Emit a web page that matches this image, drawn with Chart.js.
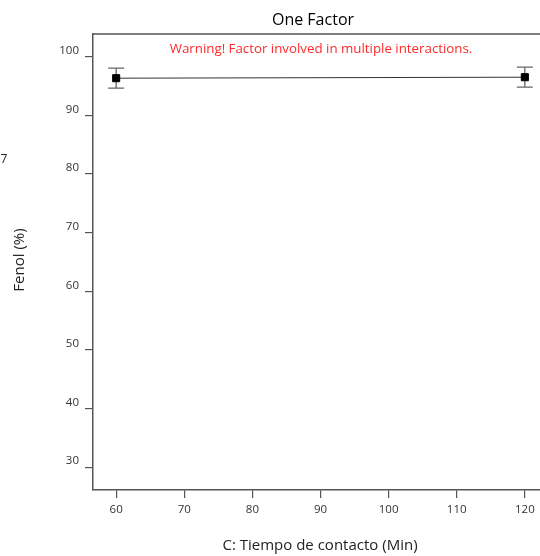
<!DOCTYPE html>
<html>
<head>
<meta charset="utf-8">
<script src="https://cdn.jsdelivr.net/npm/chart.js@4/dist/chart.umd.min.js"></script>
<style>
  html, body { margin: 0; padding: 0; background: #fff; overflow: hidden; }
  #wrap { width: 540px; height: 556px; overflow: hidden; }
  #grafico { display: block; }
</style>
</head>
<body>
<div id="wrap"><canvas id="grafico" width="560" height="556"></canvas></div>
<script>
// tiempo de contacto (min) y respuesta fenol (%)
const tiempos = [60, 120];
const fenol = [96.36, 96.53];
const fenolBajo = [94.66, 94.83];
const fenolAlto = [98.07, 98.24];
const ticksX = [60, 70, 80, 90, 100, 110, 120];
const ticksY = [30, 40, 50, 60, 70, 80, 90, 100];

const fuente = "'Open Sans', 'Noto Sans', sans-serif";
const gris = '#555';

// barras de error (debajo de los marcadores) y borde superior
const barrasError = {
    id: 'barrasError',
    beforeDatasetsDraw(chart) {
        const ctx = chart.ctx;
        const a = chart.chartArea;
        const sx = chart.scales.x, sy = chart.scales.y;
        ctx.save();
        ctx.strokeStyle = gris;
        ctx.lineWidth = 1.5;
        ctx.beginPath();
        ctx.moveTo(a.left, a.top);
        ctx.lineTo(a.right, a.top);
        ctx.stroke();

        ctx.strokeStyle = '#666';
        ctx.lineWidth = 1.3;
        for (let i = 0; i < tiempos.length; i++) {
            const px = sx.getPixelForValue(tiempos[i]);
            const y1 = sy.getPixelForValue(fenolAlto[i]);
            const y2 = sy.getPixelForValue(fenolBajo[i]);
            ctx.beginPath();
            ctx.moveTo(px, y1); ctx.lineTo(px, y2);
            ctx.moveTo(px - 8, y1); ctx.lineTo(px + 8, y1);
            ctx.moveTo(px - 8, y2); ctx.lineTo(px + 8, y2);
            ctx.stroke();
        }
        ctx.restore();
    }
};

// titulos y textos sueltos
const textos = {
    id: 'textos',
    afterDraw(chart) {
        const ctx = chart.ctx;
        ctx.save();
        ctx.textAlign = 'center';
        ctx.textBaseline = 'middle';
        ctx.fillStyle = '#000';
        ctx.font = '16px ' + fuente;
        ctx.fillText('One Factor', 313, 20);
        ctx.fillStyle = '#ff2a2a';
        ctx.font = '13.3px ' + fuente;
        ctx.fillText('Warning! Factor involved in multiple interactions.', 321, 49);
        ctx.fillStyle = '#222';
        ctx.font = '15px ' + fuente;
        ctx.fillText('C: Tiempo de contacto (Min)', 320, 546);
        ctx.font = '12px ' + fuente;
        ctx.fillText('7', 4, 160);
        ctx.translate(20, 260);
        ctx.rotate(-Math.PI / 2);
        ctx.font = '15px ' + fuente;
        ctx.fillText('Fenol (%)', 0, 0);
        ctx.restore();
    }
};

const datos = {
    datasets: [{
        data: tiempos.map((t, i) => ({ x: t, y: fenol[i] })),
        showLine: true,
        borderColor: '#333',
        borderWidth: 1,
        pointStyle: 'rect',
        pointRadius: 5,
        pointBackgroundColor: '#000',
        pointBorderColor: '#000'
    }]
};

const config = {
    type: 'scatter',
    data: datos,
    options: {
        responsive: false,
        animation: false,
        layout: { padding: { top: 34, right: 12, left: 0, bottom: 0 } },
        plugins: { legend: { display: false }, tooltip: { enabled: false } },
        scales: {
            x: {
                type: 'linear',
                min: 56.6,
                max: 123.4,
                afterBuildTicks: s => { s.ticks = ticksX.map(v => ({ value: v })); },
                afterFit: s => { s.height = 66; },
                grid: { display: true, drawOnChartArea: false, tickLength: 8, color: gris, lineWidth: 1.2 },
                border: { color: gris, width: 1.5 },
                ticks: { font: { family: fuente, size: 11.5 }, color: '#333', padding: 5, maxRotation: 0 }
            },
            y: {
                min: 26.1,
                max: 103.9,
                afterBuildTicks: s => { s.ticks = ticksY.map(v => ({ value: v })); },
                afterFit: s => { s.width = 93; },
                grid: { display: true, drawOnChartArea: false, tickLength: 8, color: gris, lineWidth: 1.2 },
                border: { color: gris, width: 1.5 },
                ticks: { font: { family: fuente, size: 11.5 }, color: '#333', padding: 6, labelOffset: -6 }
            }
        }
    },
    plugins: [barrasError, textos]
};

new Chart(document.getElementById('grafico').getContext('2d'), config);
</script>
</body>
</html>
